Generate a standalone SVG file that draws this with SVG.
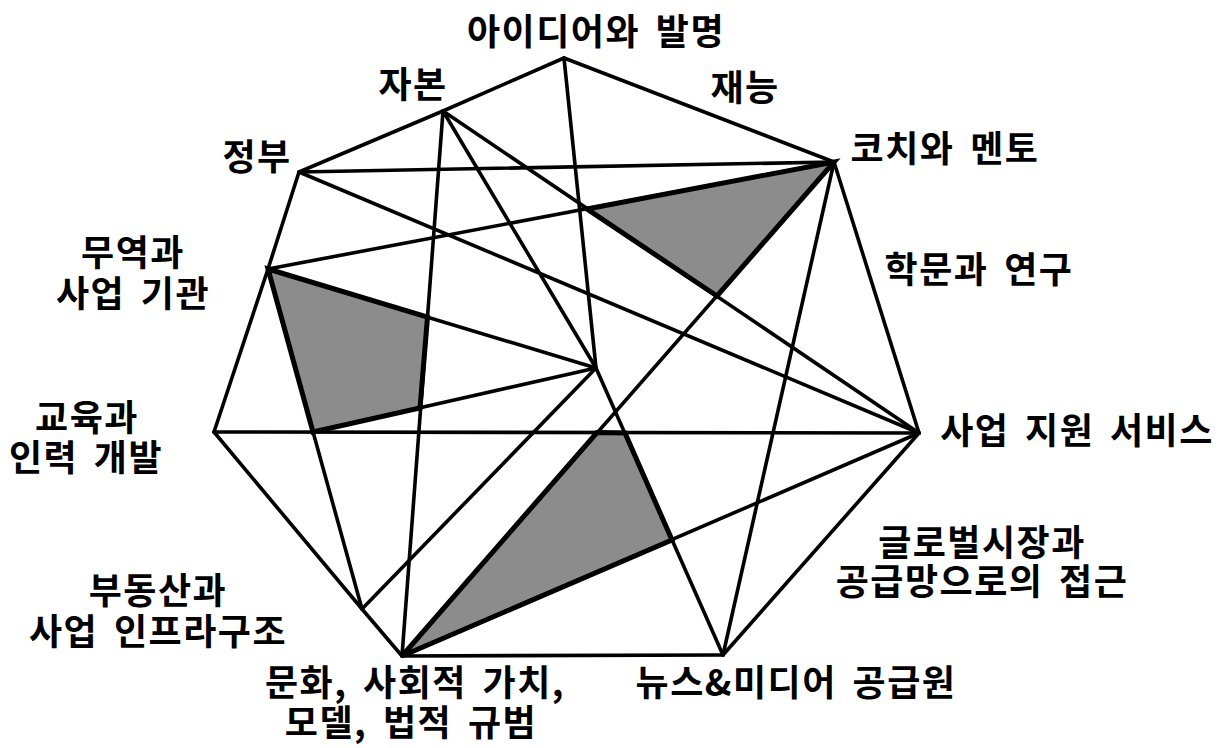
<svg xmlns="http://www.w3.org/2000/svg" width="1226" height="748" viewBox="0 0 1226 748">
  <style>
    .bg { fill: #ffffff; }
    .shade { fill: #8c8c8c; stroke: #000; stroke-width: 5; stroke-linejoin: miter; }
    .ln { stroke: #000; stroke-width: 3.6; stroke-linecap: round; fill: none; }
    .lbl { font-family: "Noto Sans CJK KR", "Noto Sans", sans-serif; font-weight: bold; font-size: 36px; letter-spacing: 1.5px; word-spacing: 6px; fill: #000; text-anchor: middle; }
  </style>
  <rect class="bg" x="0" y="0" width="1226" height="748"/>

  <g id="shading">
    <polygon class="shade" points="587,209 834,162 717,296"/>
    <polygon class="shade" points="402,656 597,432.5 625,433 672,540"/>
    <polygon class="shade" points="268,269 427.5,317 420,408 313,432"/>
  </g>

  <g id="connectors">
    <line class="ln" x1="564" y1="58" x2="443" y2="111"/>
    <line class="ln" x1="443" y1="111" x2="299" y2="172"/>
    <line class="ln" x1="299" y1="172" x2="268" y2="269"/>
    <line class="ln" x1="268" y1="269" x2="214" y2="432"/>
    <line class="ln" x1="214" y1="432" x2="362" y2="609"/>
    <line class="ln" x1="362" y1="609" x2="402" y2="656"/>
    <line class="ln" x1="402" y1="656" x2="723" y2="655"/>
    <line class="ln" x1="723" y1="655" x2="919" y2="433"/>
    <line class="ln" x1="919" y1="433" x2="834" y2="162"/>
    <line class="ln" x1="834" y1="162" x2="564" y2="58"/>
    <line class="ln" x1="564" y1="58" x2="596" y2="368"/>
    <line class="ln" x1="443" y1="111" x2="402" y2="656"/>
    <line class="ln" x1="443" y1="111" x2="596" y2="368"/>
    <line class="ln" x1="443" y1="111" x2="919" y2="433"/>
    <line class="ln" x1="299" y1="172" x2="834" y2="162"/>
    <line class="ln" x1="299" y1="172" x2="919" y2="433"/>
    <line class="ln" x1="268" y1="269" x2="834" y2="162"/>
    <line class="ln" x1="268" y1="269" x2="596" y2="368"/>
    <line class="ln" x1="268" y1="269" x2="362" y2="609"/>
    <line class="ln" x1="214" y1="432" x2="919" y2="433"/>
    <line class="ln" x1="362" y1="609" x2="596" y2="368"/>
    <line class="ln" x1="402" y1="656" x2="834" y2="162"/>
    <line class="ln" x1="402" y1="656" x2="919" y2="433"/>
    <line class="ln" x1="596" y1="368" x2="723" y2="655"/>
    <line class="ln" x1="834" y1="162" x2="723" y2="655"/>
    <line class="ln" x1="313" y1="432" x2="596" y2="368"/>
  </g>

  <g id="node-idea"><text class="lbl" x="596" y="45">아이디어와 발명</text></g>
  <g id="node-capital"><text class="lbl" x="413" y="98">자본</text></g>
  <g id="node-talent"><text class="lbl" x="745" y="101">재능</text></g>
  <g id="node-government"><text class="lbl" x="257" y="170">정부</text></g>
  <g id="node-coach"><text class="lbl" x="945" y="162">코치와 멘토</text></g>
  <g id="node-trade">
    <text class="lbl" x="133" y="266">무역과</text>
    <text class="lbl" x="133" y="307">사업 기관</text>
  </g>
  <g id="node-academia"><text class="lbl" x="979" y="283">학문과 연구</text></g>
  <g id="node-education">
    <text class="lbl" x="87" y="431">교육과</text>
    <text class="lbl" x="86" y="471">인력 개발</text>
  </g>
  <g id="node-business-support"><text class="lbl" x="1077" y="444">사업 지원 서비스</text></g>
  <g id="node-global">
    <text class="lbl" x="982" y="556">글로벌시장과</text>
    <text class="lbl" x="982" y="595">공급망으로의 접근</text>
  </g>
  <g id="node-realestate">
    <text class="lbl" x="158" y="604">부동산과</text>
    <text class="lbl" x="158" y="645">사업 인프라구조</text>
  </g>
  <g id="node-culture">
    <text class="lbl" x="415" y="696">문화, 사회적 가치,</text>
    <text class="lbl" x="411" y="736">모델, 법적 규범</text>
  </g>
  <g id="node-news"><text class="lbl" x="796" y="696">뉴스&amp;미디어 공급원</text></g>
</svg>
